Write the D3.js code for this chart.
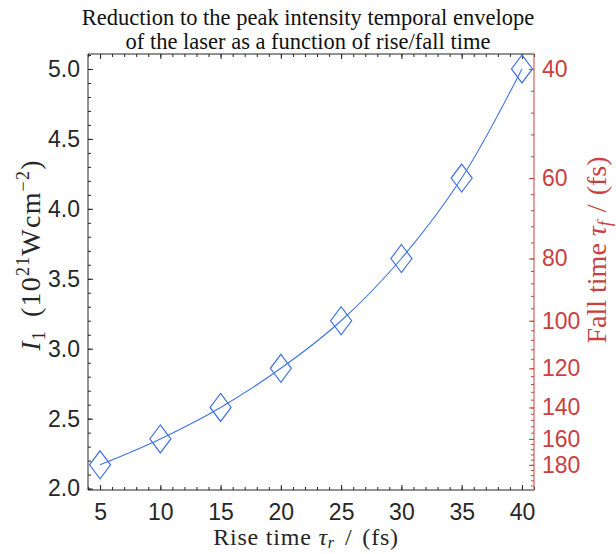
<!DOCTYPE html>
<html>
<head>
<meta charset="utf-8">
<script src="https://cdn.jsdelivr.net/npm/d3@7"></script>
<style>
  body { margin: 0; background: #fff; }
  svg { display: block; }
</style>
</head>
<body>
<svg id="chart" width="616" height="554"></svg>
<script>
// Peak intensity I1 against rise time; each rise time pairs with a fall time
const riseTime  = [5, 10, 15, 20, 25, 30, 35, 40];
const fallTime  = [180, 160, 140, 120, 100, 80, 60, 40];
const intensity = [2.17, 2.355, 2.58, 2.86, 3.20, 3.645, 4.22, 5.0];

const xTicks    = [5, 10, 15, 20, 25, 30, 35, 40];
const yTicks    = [2.0, 2.5, 3.0, 3.5, 4.0, 4.5, 5.0];
const fallTicks = [40, 60, 80, 100, 120, 140, 160, 180];

const titleLines = [
  "Reduction to the peak intensity temporal envelope",
  "of the laser as a function of rise/fall time"
];

const L = 88, R = 534, T = 54, B = 490;
const ink = "#262626", red = "#c9403f", blue = "#3f72e6";
const sans = "'Liberation Sans', Arial, sans-serif";
const serif = "'Liberation Serif', 'Times New Roman', serif";

const svg = d3.select("#chart");

const x = d3.scaleLinear().domain([4, 41]).range([L, R]);
const y = d3.scaleLinear().domain([1.99, 5.107]).range([B, T]);

// Right axis: fall time placed at the height of the matching data point
const order = d3.range(fallTime.length).sort((a, b) => fallTime[a] - fallTime[b]);
const yF = d3.scaleLinear()
  .domain(order.map(i => fallTime[i]))
  .range(order.map(i => y(intensity[i])));

function styleText(g, color) {
  g.select(".domain").remove();
  g.selectAll("line").attr("stroke", color);
  g.selectAll("text").attr("font-family", sans).attr("font-size", 23).attr("fill", color);
}

// Bottom axis (ticks point into the plot)
svg.append("g").attr("transform", `translate(0,${B})`)
  .call(d3.axisBottom(x).tickValues(d3.range(4, 42, 1)).tickSizeInner(-3).tickSizeOuter(0).tickFormat(""))
  .call(g => styleText(g, ink));
svg.append("g").attr("transform", `translate(0,${B})`)
  .call(d3.axisBottom(x).tickValues(xTicks).tickSizeInner(-5).tickSizeOuter(0).tickPadding(14))
  .call(g => styleText(g, ink));

// Top edge ticks
svg.append("g").attr("transform", `translate(0,${T})`)
  .call(d3.axisTop(x).tickValues(d3.range(4, 42, 1)).tickSizeInner(-3).tickSizeOuter(0).tickFormat(""))
  .call(g => styleText(g, ink));
svg.append("g").attr("transform", `translate(0,${T})`)
  .call(d3.axisTop(x).tickValues(xTicks).tickSizeInner(-5).tickSizeOuter(0).tickFormat(""))
  .call(g => styleText(g, ink));

// Left axis
svg.append("g").attr("transform", `translate(${L},0)`)
  .call(d3.axisLeft(y).tickValues(d3.range(20, 52, 1).map(v => v / 10)).tickSizeInner(-3).tickSizeOuter(0).tickFormat(""))
  .call(g => styleText(g, ink));
svg.append("g").attr("transform", `translate(${L},0)`)
  .call(d3.axisLeft(y).tickValues(yTicks).tickSizeInner(-5).tickSizeOuter(0).tickPadding(8).tickFormat(d3.format(".1f")))
  .call(g => styleText(g, ink));

// Right axis (fall time)
const fallMinor = d3.range(40, 201, 4).filter(v => yF(v) >= T && yF(v) <= B);
svg.append("g").attr("transform", `translate(${R},0)`)
  .call(d3.axisRight(yF).tickValues(fallMinor).tickSizeInner(-3).tickSizeOuter(0).tickFormat(""))
  .call(g => styleText(g, red));
svg.append("g").attr("transform", `translate(${R},0)`)
  .call(d3.axisRight(yF).tickValues(fallTicks).tickSizeInner(-5).tickSizeOuter(0).tickPadding(8).tickFormat(d3.format("d")))
  .call(g => styleText(g, red));

// Frame
svg.append("path")
  .attr("d", `M${R},${T}H${L}V${B}H${R}`)
  .attr("fill", "none").attr("stroke", ink).attr("stroke-width", 1);
svg.append("line")
  .attr("x1", R).attr("x2", R).attr("y1", T).attr("y2", B)
  .attr("stroke", red).attr("stroke-width", 1);

// Data
const pts = riseTime.map((r, i) => ({ r, v: intensity[i] }));

svg.append("path")
  .datum(pts)
  .attr("fill", "none").attr("stroke", blue).attr("stroke-width", 1.1)
  .attr("d", d3.line().x(d => x(d.r)).y(d => y(d.v)).curve(d3.curveCatmullRom.alpha(0.5)));

const diamond = {
  draw(ctx, size) {
    const h = Math.sqrt(size / 1.5), w = 0.75 * h;
    ctx.moveTo(0, -h); ctx.lineTo(w, 0); ctx.lineTo(0, h); ctx.lineTo(-w, 0); ctx.closePath();
  }
};
svg.append("g").selectAll("path")
  .data(pts).join("path")
  .attr("transform", d => `translate(${x(d.r)},${y(d.v)})`)
  .attr("d", d3.symbol().type(diamond).size(294))
  .attr("fill", "none").attr("stroke", blue).attr("stroke-width", 1.2);

// Title
svg.append("g").selectAll("text")
  .data(titleLines).join("text")
  .attr("x", 308).attr("y", (d, i) => 25 + i * 24)
  .attr("text-anchor", "middle")
  .attr("font-family", serif).attr("font-size", 22.5).attr("fill", "#111")
  .text(d => d);

// Axis labels
const sub = 18;
const xl = svg.append("text")
  .attr("x", 306).attr("y", 545).attr("text-anchor", "middle")
  .attr("font-family", serif).attr("font-size", 24).attr("letter-spacing", 0.8).attr("fill", ink);
xl.append("tspan").text("Rise time ");
xl.append("tspan").attr("font-style", "italic").text("τ");
xl.append("tspan").attr("font-style", "italic").attr("font-size", 16).attr("dy", 3).text("r");
xl.append("tspan").attr("dy", -3).attr("dx", 10).text("/");
xl.append("tspan").attr("dx", 10).text("(fs)");

const yl = svg.append("text")
  .attr("transform", "translate(40,255) rotate(-90)").attr("text-anchor", "middle")
  .attr("font-family", serif).attr("font-size", 28).attr("letter-spacing", 1.2).attr("fill", ink);
yl.append("tspan").attr("font-style", "italic").text("I");
yl.append("tspan").attr("font-size", sub).attr("dy", 5).text("1");
yl.append("tspan").attr("dy", -5).attr("dx", 13).text("(10");
yl.append("tspan").attr("font-size", sub).attr("dy", -11).text("21");
yl.append("tspan").attr("dy", 11).text("Wcm");
yl.append("tspan").attr("font-size", sub).attr("dy", -11).text("−2");
yl.append("tspan").attr("dy", 11).text(")");

const rl = svg.append("text")
  .attr("transform", "translate(606,250) rotate(-90)").attr("text-anchor", "middle")
  .attr("font-family", serif).attr("font-size", 28).attr("fill", red);
rl.append("tspan").text("Fall time ");
rl.append("tspan").attr("font-style", "italic").text("τ");
rl.append("tspan").attr("font-style", "italic").attr("font-size", sub).attr("dy", 5).text("f");
rl.append("tspan").attr("dy", -5).attr("dx", 9).text("/");
rl.append("tspan").attr("dx", 9).text("(fs)");
</script>
</body>
</html>
